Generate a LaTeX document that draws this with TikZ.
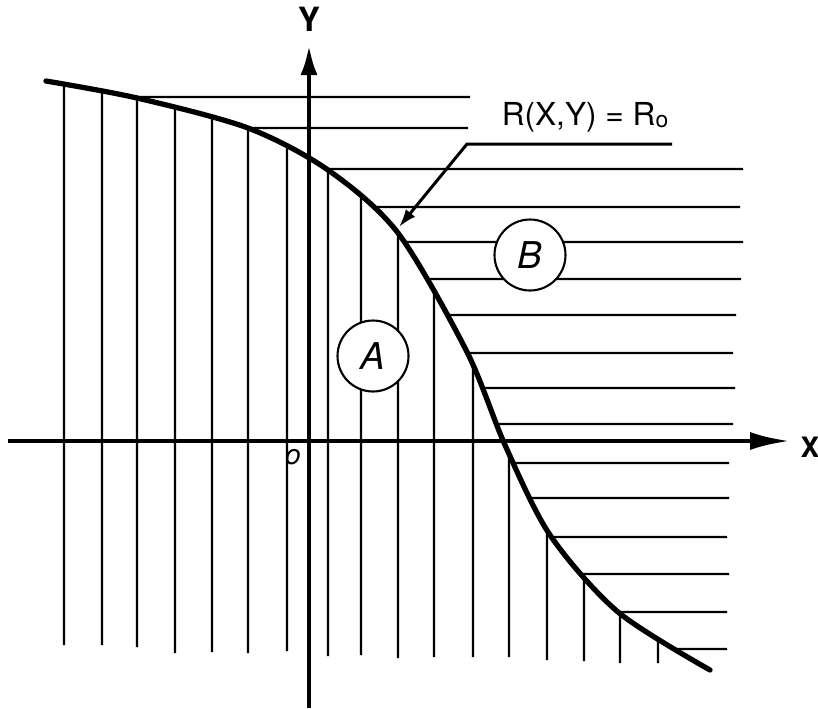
\documentclass[tikz,border=0pt]{standalone}
\usepackage{fontspec}
\setmainfont{TeX Gyre Heros}
\usetikzlibrary{arrows.meta,intersections}
\tikzset{hatch/.style={line width=1.2pt},curve/.style={line width=3pt,line cap=round},axis/.style={line width=2.6pt},lead/.style={line width=1.7pt,-{Latex[length=3.6mm,width=2.4mm]}},lab/.style={font=\fontsize{18}{20}\selectfont,inner sep=0pt},circ/.style={draw,circle,line width=1.2pt,fill=white,minimum size=1.42cm,inner sep=0pt,font=\itshape\fontsize{21}{24}\selectfont}}
\newcommand{\bndpts}{(46,81) (137,98) (248,128) (328,170) (398,233) (467,352) (505,445) (550,535) (618,612) (710,670)}

\begin{document}
\begin{tikzpicture}[x=0.02cm,y=-0.02cm]
\useasboundingbox (0,0) rectangle (818,708);
% boundary curve R(X,Y)=R0
\path[name path=bound] plot[smooth] coordinates {\bndpts};
% region A: vertical hatching
\foreach \xx/\yb in {64/645,102/645,137/647,175/653,212/652,248/653,287/651,328/656,361/655,398/658,434/657,473/657,509/657,547/660,584/661,620/663,658/663}{
  \path[name path=vl] (\xx,0) -- (\xx,708);
  \path[name intersections={of=bound and vl,by=p}];
  \draw[hatch] (p) -- (\xx,\yb);
}
% region B: horizontal hatching
\foreach \yy/\xe in {97/470,128/468,169/743,207/740,242/743,279/741,315/736,353/733,388/735,424/733,463/729,498/729,537/727,574/729,612/727,649/727}{
  \path[name path=hl] (0,\yy) -- (818,\yy);
  \path[name intersections={of=bound and hl,by=q}];
  \draw[hatch] (q) -- (\xe,\yy);
}
% axes
\coordinate (xmin) at (8,441);
\coordinate (xmax) at (790,441);
\coordinate (ymin) at (309,708);
\coordinate (ymax) at (309,45);
\draw[axis,-{Latex[length=8mm,width=3.6mm]}] (xmin) -- (xmax);
\draw[axis,-{Latex[length=6mm,width=3.4mm]}] (ymin) -- (ymax);
\node[lab,font=\bfseries\fontsize{16}{18}\selectfont] (xl) at (810,447) {X};
\node[lab,font=\bfseries\fontsize{19}{22}\selectfont] (yl) at (309,19) {Y};
\node[lab,font=\itshape\fontsize{16}{18}\selectfont] (org) at (293,457) {o};
\draw[curve] plot[smooth] coordinates {\bndpts};
% regions
\node[circ] (ra) at (373,356) {A};
\node[circ] (rb) at (530,255) {B};
% curve label with leader
\node[lab] (req) at (585,117) {R(X,Y) = R\raisebox{-1.5pt}{\fontsize{13}{14}\selectfont o}};
\coordinate (uend) at (672,144);
\coordinate (bend) at (467,144);
\coordinate (tip) at (399,227);
\draw[lead] (uend) -- (bend) -- (tip);
\end{tikzpicture}
\end{document}
